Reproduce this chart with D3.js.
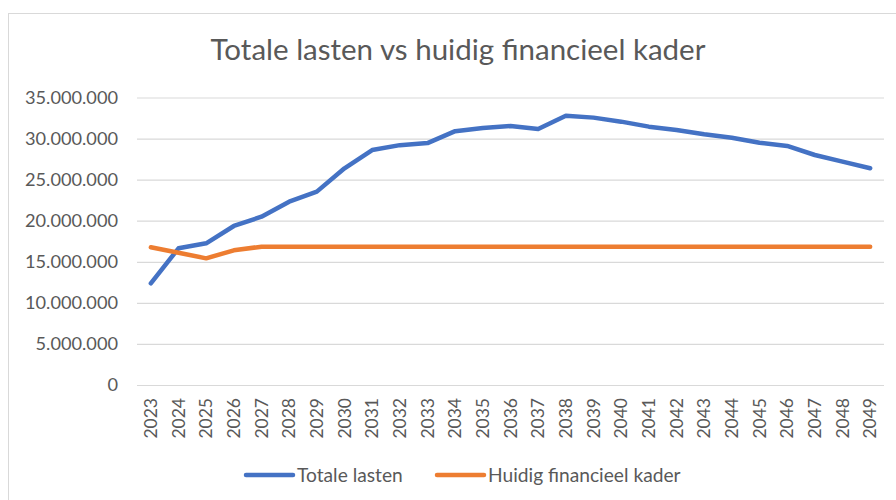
<!DOCTYPE html>
<html>
<head>
<meta charset="utf-8">
<script src="https://cdn.jsdelivr.net/npm/d3@7"></script>
<style>
  html, body { margin: 0; padding: 0; background: #fff; }
  svg { display: block; font-family: Lato, "Open Sans", sans-serif; }
</style>
</head>
<body>
<svg id="chart" width="896" height="500"></svg>
<script>
// Jaren op de x-as
const years = d3.range(2023, 2050).map(String);

// Totale lasten per jaar
const totaleLasten = [
  12380000, 16640000, 17250000, 19360000, 20490000, 22320000, 23540000,
  26380000, 28600000, 29200000, 29450000, 30900000, 31300000, 31530000,
  31170000, 32790000, 32550000, 32060000, 31450000, 31050000, 30520000,
  30110000, 29500000, 29100000, 28000000, 27190000, 26380000
];

// Huidig financieel kader per jaar
const huidigKader = [
  16760000, 16100000, 15420000, 16400000, 16840000, 16840000, 16840000,
  16840000, 16840000, 16840000, 16840000, 16840000, 16840000, 16840000,
  16840000, 16840000, 16840000, 16840000, 16840000, 16840000, 16840000,
  16840000, 16840000, 16840000, 16840000, 16840000, 16840000
];

const yTicks = [0, 5000000, 10000000, 15000000, 20000000, 25000000, 30000000, 35000000];

const seriesNames = ["Totale lasten", "Huidig financieel kader"];
const seriesColors = ["#4472C4", "#ED7D31"];
const title = "Totale lasten vs huidig financieel kader";

const svg = d3.select("#chart");
const textColor = "#595959";

// Nederlandse getalnotatie: punt als duizendtalscheiding
const nl = d3.formatLocale({ decimal: ",", thousands: ".", grouping: [3], currency: ["€ ", ""] });
const fmt = nl.format(",");

const plot = { left: 137, right: 884, top: 97.5, bottom: 385 };

const x = d3.scaleBand().domain(years).range([plot.left, plot.right]).padding(0);
const y = d3.scaleLinear().domain([0, 35000000]).range([plot.bottom, plot.top]);
const cx = d => x(d) + x.bandwidth() / 2;

// kader rond de grafiek
svg.append("rect")
  .attr("x", 8.5).attr("y", 13.5)
  .attr("width", 900).attr("height", 500)
  .attr("fill", "none").attr("stroke", "#d9d9d9").attr("stroke-width", 1);

// titel
svg.append("text")
  .attr("x", 458).attr("y", 60)
  .attr("text-anchor", "middle")
  .attr("fill", textColor)
  .attr("font-size", 29.5)
  .text(title);

// y-as met rasterlijnen
const yAxis = d3.axisLeft(y)
  .tickValues(yTicks)
  .tickFormat(fmt)
  .tickSize(-(plot.right - plot.left))
  .tickPadding(19);

const gy = svg.append("g")
  .attr("transform", `translate(${plot.left},0)`)
  .call(yAxis);
gy.select(".domain").remove();
gy.selectAll(".tick line").attr("stroke", "#d9d9d9").attr("stroke-width", 1.2);
gy.selectAll(".tick text")
  .attr("fill", textColor)
  .attr("font-size", 18.2)
  .attr("font-family", "Lato, sans-serif");

// x-as met gedraaide jaartallen
const xAxis = d3.axisBottom(x).tickSize(0).tickPadding(0);
const gx = svg.append("g")
  .attr("transform", `translate(0,${plot.bottom})`)
  .call(xAxis);
gx.select(".domain").remove();
gx.selectAll(".tick text")
  .attr("fill", textColor)
  .attr("font-size", 17.5)
  .attr("font-family", "Lato, sans-serif")
  .attr("text-anchor", "end")
  .attr("dy", null)
  .attr("y", 0)
  .attr("transform", "translate(6,13) rotate(-90)");

// lijnen
const line = d3.line().x((d, i) => cx(years[i])).y(d => y(d));
[totaleLasten, huidigKader].forEach((vals, k) => {
  svg.append("path")
    .datum(vals)
    .attr("fill", "none")
    .attr("stroke", seriesColors[k])
    .attr("stroke-width", 4.5)
    .attr("stroke-linejoin", "round")
    .attr("stroke-linecap", "round")
    .attr("d", line);
});

// legenda
const legendX = [246, 437];
const legend = svg.append("g");
seriesNames.forEach((name, k) => {
  const g = legend.append("g").attr("transform", `translate(${legendX[k]},475)`);
  g.append("line")
    .attr("x1", 0).attr("x2", 47)
    .attr("stroke", seriesColors[k])
    .attr("stroke-width", 4.5)
    .attr("stroke-linecap", "round");
  g.append("text")
    .attr("x", 51).attr("y", 6.5)
    .attr("fill", textColor)
    .attr("font-size", 19.2)
    .text(name);
});
</script>
</body>
</html>
